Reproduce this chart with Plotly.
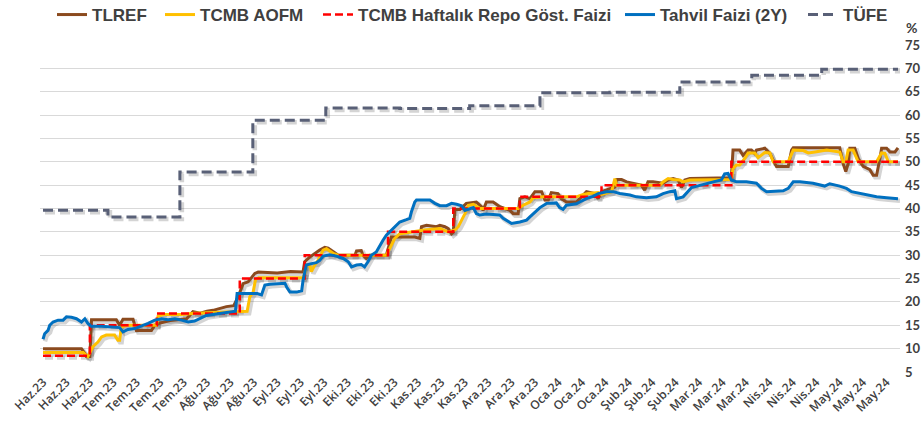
import plotly.graph_objects as go

# X ekseni etiketleri (her 7 işlem gününde bir)
etiketler = (["Haz.23"] * 3 + ["Tem.23"] * 4 + ["Ağu.23"] * 3 + ["Eyl.23"] * 3 +
             ["Eki.23"] * 3 + ["Kas.23"] * 3 + ["Ara.23"] * 3 + ["Oca.24"] * 3 +
             ["Şub.24"] * 3 + ["Mar.24"] * 3 + ["Nis.24"] * 3 + ["May.24"] * 3)
etiket_gunleri = list(range(0, 7 * len(etiketler), 7))

# (işlem günü, %) çiftleri
tlref = [
    (0, 10.0), (11.5, 10.0), (12.5, 9.0), (13.0, 8.3), (14.0, 8.3), (14.5, 16.2),
    (21.9, 16.2), (22.9, 15.0), (23.9, 16.3), (26.9, 16.3), (27.9, 13.9), (32.4, 13.9),
    (33.4, 15.0), (35, 15.5), (38, 16.0), (42.9, 16.4), (44.8, 17.9), (47, 17.6),
    (49, 18.0), (50.8, 18.2), (54.8, 19.0), (57.0, 19.2), (58.3, 21.1), (59.8, 23.9),
    (61.3, 24.3), (63.3, 26.1), (64.3, 26.4), (70, 26.2), (74, 26.5), (77.7, 26.4),
    (78.2, 28.6), (79.7, 29.6), (82.7, 31.1), (84.2, 31.7), (85.2, 31.5), (86.7, 30.7),
    (88.2, 30.0), (93.2, 30.0), (93.7, 30.9), (95.1, 31.0), (95.6, 30.0), (96.6, 29.3),
    (97.6, 30.0), (102.6, 30.0), (103.6, 32.9), (104.1, 33.9), (111.1, 33.9), (112.1, 33.6),
    (112.6, 33.6), (113.1, 36.1), (114.6, 36.4), (117.6, 36.1), (118.6, 36.4), (120.1, 36.1),
    (121.1, 35.7), (122.1, 34.6), (122.6, 34.9), (123.1, 39.8), (124.6, 39.8), (126.5, 41.1),
    (129.5, 41.4), (131.0, 40.4), (131.5, 39.6), (132.5, 41.4), (134.5, 41.4), (136.5, 40.4),
    (139.5, 39.6), (140.5, 38.9), (142.0, 38.9), (142.5, 42.1), (144.0, 42.5), (145.5, 42.1),
    (147.0, 43.6), (149.0, 43.6), (150.0, 41.8), (151.0, 41.8), (151.9, 43.4), (153.9, 43.2),
    (154.9, 42.1), (156.4, 41.4), (159.4, 41.4), (160.4, 42.1), (162.4, 43.6), (164.9, 43.2),
    (165.9, 42.1), (166.9, 43.6), (170.9, 44.6), (171.4, 46.2), (172.9, 46.2), (174.4, 45.7),
    (176.4, 45.4), (178.8, 45.0), (179.8, 43.9), (180.8, 45.7), (182.3, 45.7), (185.3, 45.4),
    (186.8, 46.1), (188.3, 46.4), (189.8, 46.1), (190.8, 44.5), (191.8, 46.1), (193.3, 46.4),
    (205.7, 46.6), (206.2, 52.5), (208.2, 52.5), (209.2, 51.4), (210.7, 52.5), (211.7, 52.5),
    (212.7, 51.8), (213.2, 52.5), (215.7, 52.9), (217.2, 51.8), (218.7, 49.6), (219.2, 49.0),
    (222.7, 49.0), (223.7, 52.5), (224.2, 53.0), (238.1, 53.0), (239.1, 49.6), (239.9, 47.9),
    (240.6, 49.6), (241.1, 52.9), (242.6, 52.9), (243.6, 50.7), (245.1, 49.0), (246.1, 48.6),
    (247.1, 48.3), (248.1, 47.1), (249.1, 47.1), (250.1, 50.7), (250.6, 52.9), (252.1, 52.9),
    (253.1, 52.1), (254.6, 52.1), (255.5, 53.0),
]

aofm = [
    (0, 9.2), (12.0, 9.2), (13.4, 8.3), (14.9, 10.4), (16.4, 11.4), (17.5, 12.5),
    (18.9, 12.9), (21.4, 12.9), (22.4, 11.8), (22.9, 11.8), (23.4, 14.6), (25, 15.0),
    (33.9, 15.0), (34.4, 17.0), (36, 17.3), (41.4, 17.3), (45.3, 17.6), (56, 17.8),
    (61.0, 18.0), (61.8, 21.1), (62.8, 22.1), (63.5, 24.8), (64.5, 25.2), (77.7, 25.2),
    (78.2, 26.0), (78.7, 27.9), (79.7, 27.9), (80.2, 26.5), (81.2, 27.9), (82.2, 28.9),
    (83.7, 31.1), (84.7, 31.4), (86.7, 30.4), (88.2, 30.0), (102.6, 30.0), (103.6, 31.4),
    (105.1, 33.6), (106.6, 34.6), (110.1, 35.0), (114, 35.4), (118.6, 35.7), (119.6, 35.4),
    (121.1, 35.0), (123.1, 35.4), (124.1, 36.1), (125.1, 37.5), (126.1, 38.9), (127.1, 40.7),
    (128.6, 40.9), (130.6, 40.0), (142.0, 40.0), (143.5, 40.7), (145.5, 41.4), (146.5, 42.3),
    (149.5, 42.5), (159.4, 42.5), (161, 42.9), (162.9, 43.2), (165.9, 43.4), (166.9, 43.0),
    (169.9, 43.6), (170.9, 46.4), (171.4, 45.0), (184.3, 45.0), (185.3, 45.7), (186.8, 46.4),
    (188.3, 46.2), (190.3, 46.1), (191.3, 45.7), (193.3, 46.1), (205.7, 46.2), (206.2, 48.6),
    (207.2, 49.3), (208.2, 49.3), (209.7, 50.7), (210.7, 51.9), (212.7, 51.9), (213.7, 50.9),
    (215.7, 52.0), (217.2, 51.9), (218.2, 50.0), (222.7, 50.0), (223.7, 51.9), (224.2, 52.5),
    (227.2, 52.4), (228.7, 51.9), (230.7, 52.1), (234.2, 52.5), (238.1, 52.1), (239.1, 50.0),
    (239.9, 50.0), (240.6, 52.5), (242.1, 52.5), (243.6, 50.0), (249.1, 50.0), (250.6, 51.9),
    (251.6, 51.8), (252.6, 50.0), (255.5, 50.0),
]

# Politika faizi ve TÜFE: değişim günleri (basamaklı)
repo = [
    (0, 8.5), (14.0, 15.0), (34.0, 17.5), (58.8, 25.0), (78.2, 30.0), (103.1, 35.0),
    (122.6, 40.0), (142.5, 42.5), (166.9, 45.0), (205.7, 50.0), (255.5, 50.0),
]

tufe = [
    (0, 39.6), (19.4, 38.2), (40.9, 47.8), (62.7, 58.9), (84.5, 61.5), (106.6, 61.4),
    (127.5, 62.0), (148.5, 64.8), (169.4, 64.9), (190.3, 67.1), (211.8, 68.5),
    (232.7, 69.8), (255.5, 69.8),
]

tahvil = [
    (0, 12.0), (0.5, 13.2), (1.5, 13.9), (2, 15.0), (3, 15.7), (4.5, 16.1), (6, 16.1),
    (7, 16.8), (8.5, 16.7), (10, 16.4), (11.5, 15.7), (12.5, 16.4), (13.4, 15.4),
    (14.4, 14.8), (17.5, 14.8), (21.4, 14.6), (22.9, 14.5), (23.9, 13.6), (25.4, 14.1),
    (27.4, 14.3), (29.4, 14.8), (31.4, 15.4), (33.4, 16.1), (35.4, 16.4), (37.4, 16.2),
    (39.4, 16.4), (41.4, 16.1), (43.4, 15.7), (45.3, 15.9), (46.8, 16.4), (48.8, 17.1),
    (52.8, 17.5), (56.8, 17.9), (57.5, 18.0), (58.0, 21.8), (64, 21.8), (65.3, 21.5),
    (66.3, 23.6), (67.8, 23.8), (70.8, 23.9), (72.3, 24.0), (72.8, 23.2), (73.8, 22.1),
    (75.8, 22.1), (77.3, 22.4), (77.7, 24.6), (78.7, 27.9), (80.2, 28.2), (81.7, 28.4),
    (82.7, 28.9), (83.7, 29.8), (85.7, 30.1), (87.7, 29.8), (89.7, 29.3), (91.2, 28.6),
    (92.2, 27.5), (93.7, 27.9), (95.1, 28.0), (96.1, 27.5), (97.1, 28.6), (98.1, 30.0),
    (99.6, 30.7), (100.6, 32.1), (101.6, 33.2), (102.6, 34.3), (103.6, 35.0), (105.1, 36.1),
    (106.6, 37.1), (108.6, 37.6), (109.6, 37.9), (110.1, 39.3), (111.1, 41.4), (111.6, 41.8),
    (115.6, 41.8), (117.1, 41.1), (118.6, 40.6), (120.6, 40.6), (122.1, 41.1), (123.6, 40.9),
    (125.1, 40.6), (126.1, 39.6), (127.1, 39.8), (128.6, 40.2), (129.5, 38.9), (130.5, 38.6),
    (132.5, 38.8), (136.5, 38.6), (137.5, 37.9), (139.5, 37.1), (140.0, 36.8), (142.5, 37.1),
    (144.5, 37.5), (145.5, 38.2), (147.0, 39.3), (148.5, 40.2), (150.5, 41.1), (153.4, 41.2),
    (154.4, 40.2), (155.4, 39.8), (156.4, 40.7), (159.4, 41.0), (160.4, 41.4), (162.4, 42.1),
    (164.4, 42.6), (165.9, 43.2), (168.4, 43.6), (170.4, 43.6), (172.4, 43.2), (175.4, 42.9),
    (177.3, 42.5), (180.3, 42.3), (183.3, 42.5), (185.3, 43.2), (187.3, 43.6), (188.8, 43.8),
    (189.3, 42.1), (191.3, 42.5), (193.8, 44.5), (196.3, 45.0), (200.3, 45.7), (202.7, 46.1),
    (203.7, 47.4), (204.7, 47.5), (205.7, 46.1), (207.2, 45.7), (210.2, 45.7), (213.2, 45.4),
    (214.7, 44.3), (216.2, 43.6), (221.2, 43.8), (222.7, 44.3), (224.2, 45.7), (226.2, 45.7),
    (230.1, 45.4), (233.6, 44.8), (235.1, 45.3), (238.1, 44.8), (240.1, 44.3), (241.6, 43.6),
    (244.1, 43.2), (246.1, 42.9), (249.1, 42.5), (252.1, 42.3), (255.5, 42.1),
]

seriler = [
    # ad, veri, renk, kalınlık, çizgi tipi, basamak, lejant
    ("TLREF", tlref, "#8B4A1E", 3, "solid", "linear", "legend"),
    ("TCMB AOFM", aofm, "#FFC000", 3, "solid", "linear", "legend2"),
    ("TCMB Haftalık Repo Göst. Faizi", repo, "#FF0000", 2.5, "8px,4px", "hv", "legend3"),
    ("Tahvil Faizi (2Y)", tahvil, "#0070C0", 3, "solid", "linear", "legend4"),
    ("TÜFE", tufe, "#596077", 3, "10px,5px", "hv", "legend5"),
]

X_ARALIK = [-0.9, 256.1]
Y_ARALIK = [5, 75]
px_x = (X_ARALIK[1] - X_ARALIK[0]) / 860
px_y = (Y_ARALIK[1] - Y_ARALIK[0]) / 327

fig = go.Figure()

# Gölge katmanı: alt eksen çifti (x/y), 2 piksel sağa-aşağı kaydırılmış
for ad, veri, renk, kal, dash, shape, lg in seriler:
    gx, gy = zip(*veri)
    fig.add_trace(go.Scatter(
        x=gx, y=gy, mode="lines", xaxis="x", yaxis="y", showlegend=False,
        hoverinfo="skip", line=dict(color="rgba(60,60,60,0.22)", width=kal + 1.5,
                                    dash=dash, shape=shape)))

# Asıl çizgiler: üst eksen çifti (x2/y2), ızgara ve etiketler bu eksenlerde
for ad, veri, renk, kal, dash, shape, lg in seriler:
    gx, gy = zip(*veri)
    fig.add_trace(go.Scatter(
        x=gx, y=gy, mode="lines", name=ad, xaxis="x2", yaxis="y2", legend=lg,
        line=dict(color=renk, width=kal, dash=dash, shape=shape)))

lejant_font = dict(family="Liberation Sans", size=17, color="#404040", weight="bold")
lejant_x = {"legend": 52, "legend2": 160, "legend3": 318, "legend4": 620, "legend5": 803}
lejantlar = {k: dict(orientation="h", x=v / 922, y=1 - 15 / 429, xref="container",
                     yref="container", xanchor="left", yanchor="middle",
                     font=lejant_font, bgcolor="rgba(0,0,0,0)", itemwidth=30,
                     borderwidth=0)
             for k, v in lejant_x.items()}

fig.update_layout(
    width=922, height=429,
    margin=dict(l=40, r=22, t=45, b=57, autoexpand=False),
    paper_bgcolor="white", plot_bgcolor="white",
    xaxis=dict(range=[X_ARALIK[0] - 2 * px_x, X_ARALIK[1] - 2 * px_x], visible=False),
    yaxis=dict(range=[Y_ARALIK[0] + 2 * px_y, Y_ARALIK[1] + 2 * px_y], visible=False),
    xaxis2=dict(range=X_ARALIK, overlaying="x", anchor="y2", tickmode="array",
                tickvals=etiket_gunleri, ticktext=etiketler, tickangle=-45,
                showgrid=False, zeroline=False, showline=False, ticks="",
                tickfont=dict(family="Open Sans", size=12, color="#404040", weight=600)),
    yaxis2=dict(range=Y_ARALIK, overlaying="y", anchor="x2", side="right", dtick=5,
                tick0=5, showgrid=True, gridcolor="#D9D9D9", gridwidth=1,
                zeroline=False, showline=False, ticks="", ticklabelstandoff=4,
                automargin=False,
                tickfont=dict(family="Lato", size=13, color="#404040", weight="bold")),
    annotations=[dict(text="%", xref="paper", yref="paper", x=1.005, y=1.055,
                      xanchor="left", yanchor="middle", showarrow=False,
                      font=dict(family="Lato", size=14, color="#404040", weight="bold"))],
    **lejantlar,
)

fig.write_html("out.html")
